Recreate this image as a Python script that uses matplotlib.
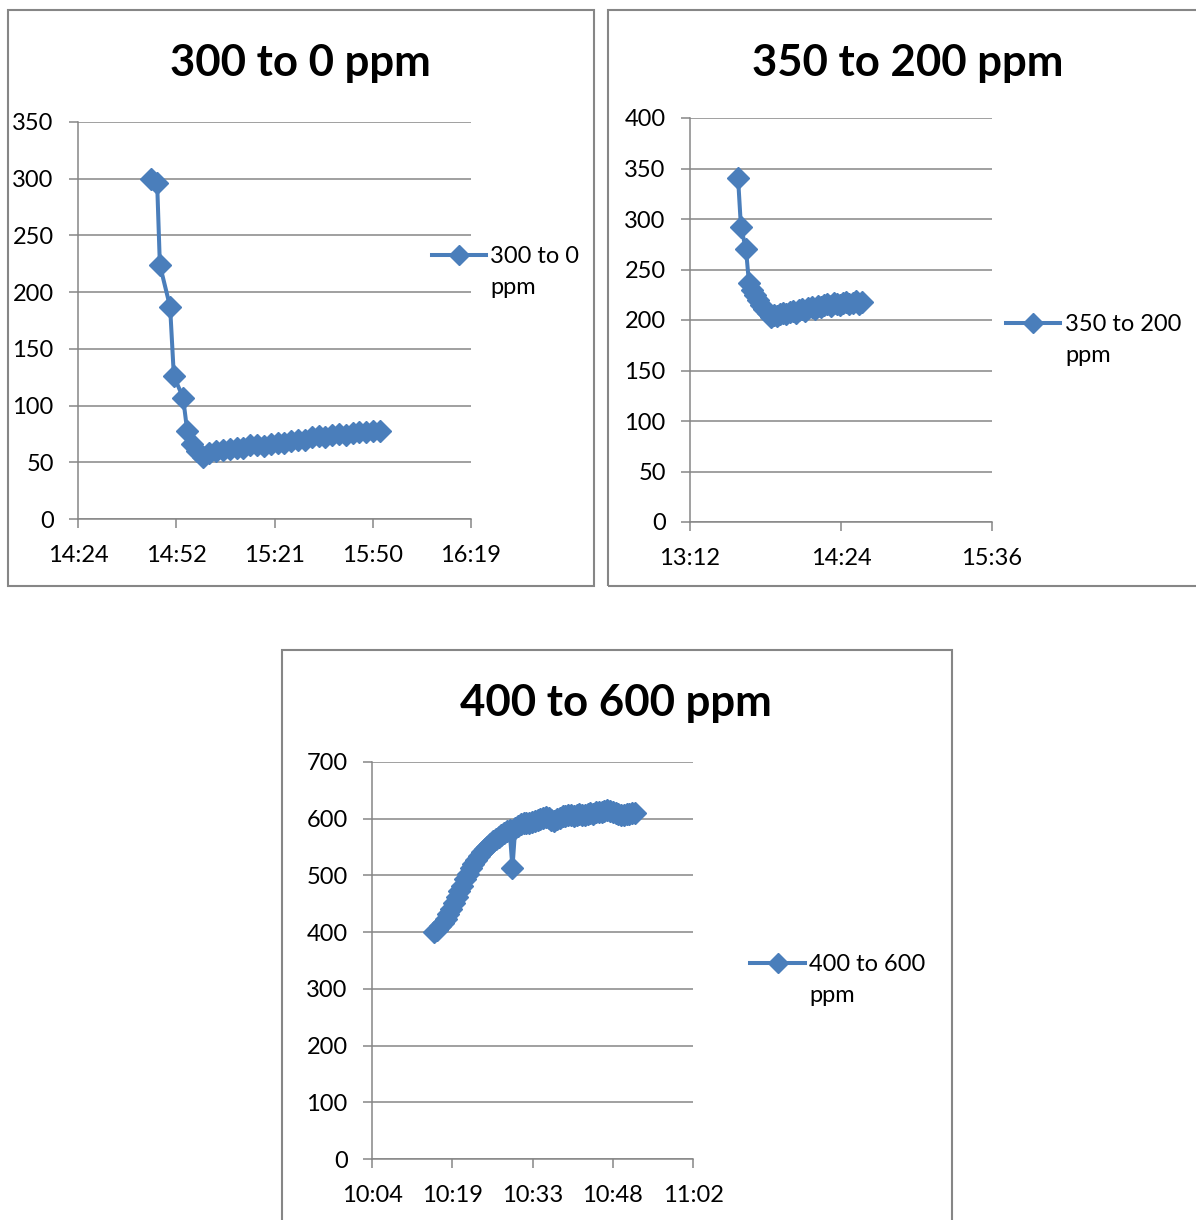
import matplotlib
matplotlib.use("Agg")
from matplotlib import pyplot as plt
from matplotlib.lines import Line2D
from matplotlib.patches import Rectangle
from matplotlib.ticker import FuncFormatter

plt.rcParams['font.family'] = ['Lato', 'DejaVu Sans']

BLUE = '#4a7ebb'
GREY = '#868686'

# chart 1: 300 to 0 ppm  (time in minutes after midnight)
t1 = [885.4, 887.2, 888.0, 891.0, 892.1, 894.8, 896.0, 897.3, 898.8, 900.6,
      902.5, 904.5, 906.5, 908.5, 910.5, 912.5, 914.5, 916.5, 918.5, 920.5,
      922.5, 924.5, 926.5, 928.5, 930.5, 932.5, 934.5, 936.5, 938.5, 940.5,
      942.5, 944.5, 946.5, 948.5, 950.5, 952.5]
v1 = [300, 296, 224, 187, 126, 107, 78, 66, 60, 55,
      58, 60, 61, 62, 63, 63, 65, 65, 64, 66,
      67, 67, 69, 70, 70, 72, 73, 72, 74, 75,
      74, 76, 77, 77, 78, 78]
xt1 = [864, 892.8, 921.6, 950.4, 979.2]
yt1 = [0, 50, 100, 150, 200, 250, 300, 350]

# chart 2: 350 to 200 ppm
t2 = [814.9, 816.3, 818.7, 820.1,
      821.5, 823.0, 824.5, 826.0, 827.5, 829.0, 830.5, 832.0, 833.5, 835.0,
      836.5, 838.0, 839.5, 841.0, 842.5, 844.0, 845.5, 847.0, 848.5, 850.0,
      851.5, 853.0, 854.5, 856.0, 857.5, 859.0, 860.5, 862.0, 863.5, 865.0,
      866.5, 868.0, 869.5, 871.0, 872.5, 874.0]
v2 = [341, 292, 270, 237,
      230, 225, 220, 215, 211, 207, 203, 205, 204, 206,
      207, 206, 208, 209, 207, 210, 211, 209, 212, 213,
      211, 214, 213, 215, 216, 214, 217, 216, 215, 217,
      218, 216, 217, 219, 216, 218]
xt2 = [792, 864, 936]
yt2 = [0, 50, 100, 150, 200, 250, 300, 350, 400]

# chart 3: 400 to 600 ppm
t3 = [616.0, 616.5, 617.0, 617.5, 618.0, 618.5, 619.0, 619.5, 620.0, 620.5,
      621.0, 621.5, 622.0, 622.5, 623.0, 623.5, 624.0, 624.5, 625.0, 625.5,
      626.0, 626.5, 627.0, 627.5, 628.0, 628.5, 629.0, 629.5, 630.0, 630.5,
      631.0, 631.5, 632.0, 632.5, 633.0, 633.5, 634.0, 634.5, 635.0, 635.5,
      636.0, 636.5, 637.0, 637.5, 638.0, 638.5, 639.0, 639.5, 640.0, 640.5,
      641.0, 641.5, 642.0, 642.5, 643.0, 643.5, 644.0, 644.5, 645.0, 645.5,
      646.0, 646.5, 647.0, 647.5, 648.0, 648.5, 649.0, 649.5, 650.0, 650.5,
      651.0, 651.5, 652.0]
v3 = [400, 404, 410, 417, 424, 432, 440, 451, 462, 472,
      482, 493, 503, 513, 521, 528, 535, 541, 547, 551,
      555, 560, 564, 568, 572, 575, 578, 580, 513, 583,
      587, 590, 592, 593, 593, 595, 596, 598, 600, 602,
      603, 601, 598, 596, 599, 602, 604, 605, 607, 606,
      605, 607, 608, 607, 606, 608, 610, 609, 611, 612,
      611, 613, 615, 614, 612, 610, 608, 607, 606, 608,
      609, 610, 610]
xt3 = [604.8, 619.2, 633.6, 648.0, 662.4]
yt3 = [0, 100, 200, 300, 400, 500, 600, 700]

W, H = 1196, 1220


def fx(px):
    return px / W


def fy(py):
    return 1 - py / H


def hhmm(m, pos=None):
    m = int(m + 1e-6)
    return "%d:%02d" % (m // 60, m % 60)


fig = plt.figure(figsize=(11.96, 12.2), dpi=100)

# chart frames
for x0, y0, x1, y1 in [(8, 10, 594, 586), (608, 10, 1200, 586), (282, 650, 952, 1230)]:
    fig.add_artist(Rectangle((fx(x0), fy(y1)), fx(x1) - fx(x0), fy(y0) - fy(y1),
                             transform=fig.transFigure, fill=False,
                             edgecolor=GREY, lw=1.5))


def chart(box, t, v, xt, yt, title, tpos, leg):
    l, tp, r, b = box
    ax = fig.add_axes([fx(l), fy(b), fx(r) - fx(l), fy(tp) - fy(b)])
    ax.plot(t, v, color=BLUE, lw=2.9, marker='D', ms=11, zorder=3)
    ax.set_xlim(xt[0], xt[-1])
    ax.set_ylim(yt[0], yt[-1])
    ax.set_xticks(xt)
    ax.set_yticks(yt)
    ax.xaxis.set_major_formatter(FuncFormatter(hhmm))
    ax.grid(axis='y', color=GREY, lw=1.1)
    ax.set_axisbelow(True)
    for s in ['top', 'right']:
        ax.spines[s].set_visible(False)
    for s in ['left', 'bottom']:
        ax.spines[s].set_color(GREY)
        ax.spines[s].set_linewidth(1.1)
    ax.tick_params(axis='both', colors=GREY, labelcolor='black', labelsize=17,
                   length=6.5, width=1.1)
    ax.tick_params(axis='x', pad=12)
    ax.tick_params(axis='y', pad=11)
    fig.text(fx(tpos[0]), fy(tpos[1]), title, ha='center', va='center',
             fontsize=31.5, fontweight='bold')
    lx0, lx1, ly, tx, lab = leg
    fig.add_artist(Line2D([fx(lx0), fx((lx0 + lx1) / 2), fx(lx1)], [fy(ly)] * 3,
                          transform=fig.transFigure, color=BLUE, lw=2.9,
                          marker='D', ms=10.5, markevery=[1]))
    fig.text(fx(tx), fy(ly + 17), lab, ha='left', va='center', fontsize=17,
             linespacing=1.6)
    return ax


chart((78, 122, 471, 519), t1, v1, xt1, yt1, '300 to 0 ppm', (300, 63),
      (432, 486, 255, 490, '300 to 0\nppm'))
chart((690, 118, 992, 522), t2, v2, xt2, yt2, '350 to 200 ppm', (908, 63),
      (1006, 1060, 323, 1065, '350 to 200\nppm'))
chart((372, 762, 693, 1159), t3, v3, xt3, yt3, '400 to 600 ppm', (616, 703),
      (750, 805, 963, 809, '400 to 600\nppm'))

fig.savefig('out.png', dpi=100)
